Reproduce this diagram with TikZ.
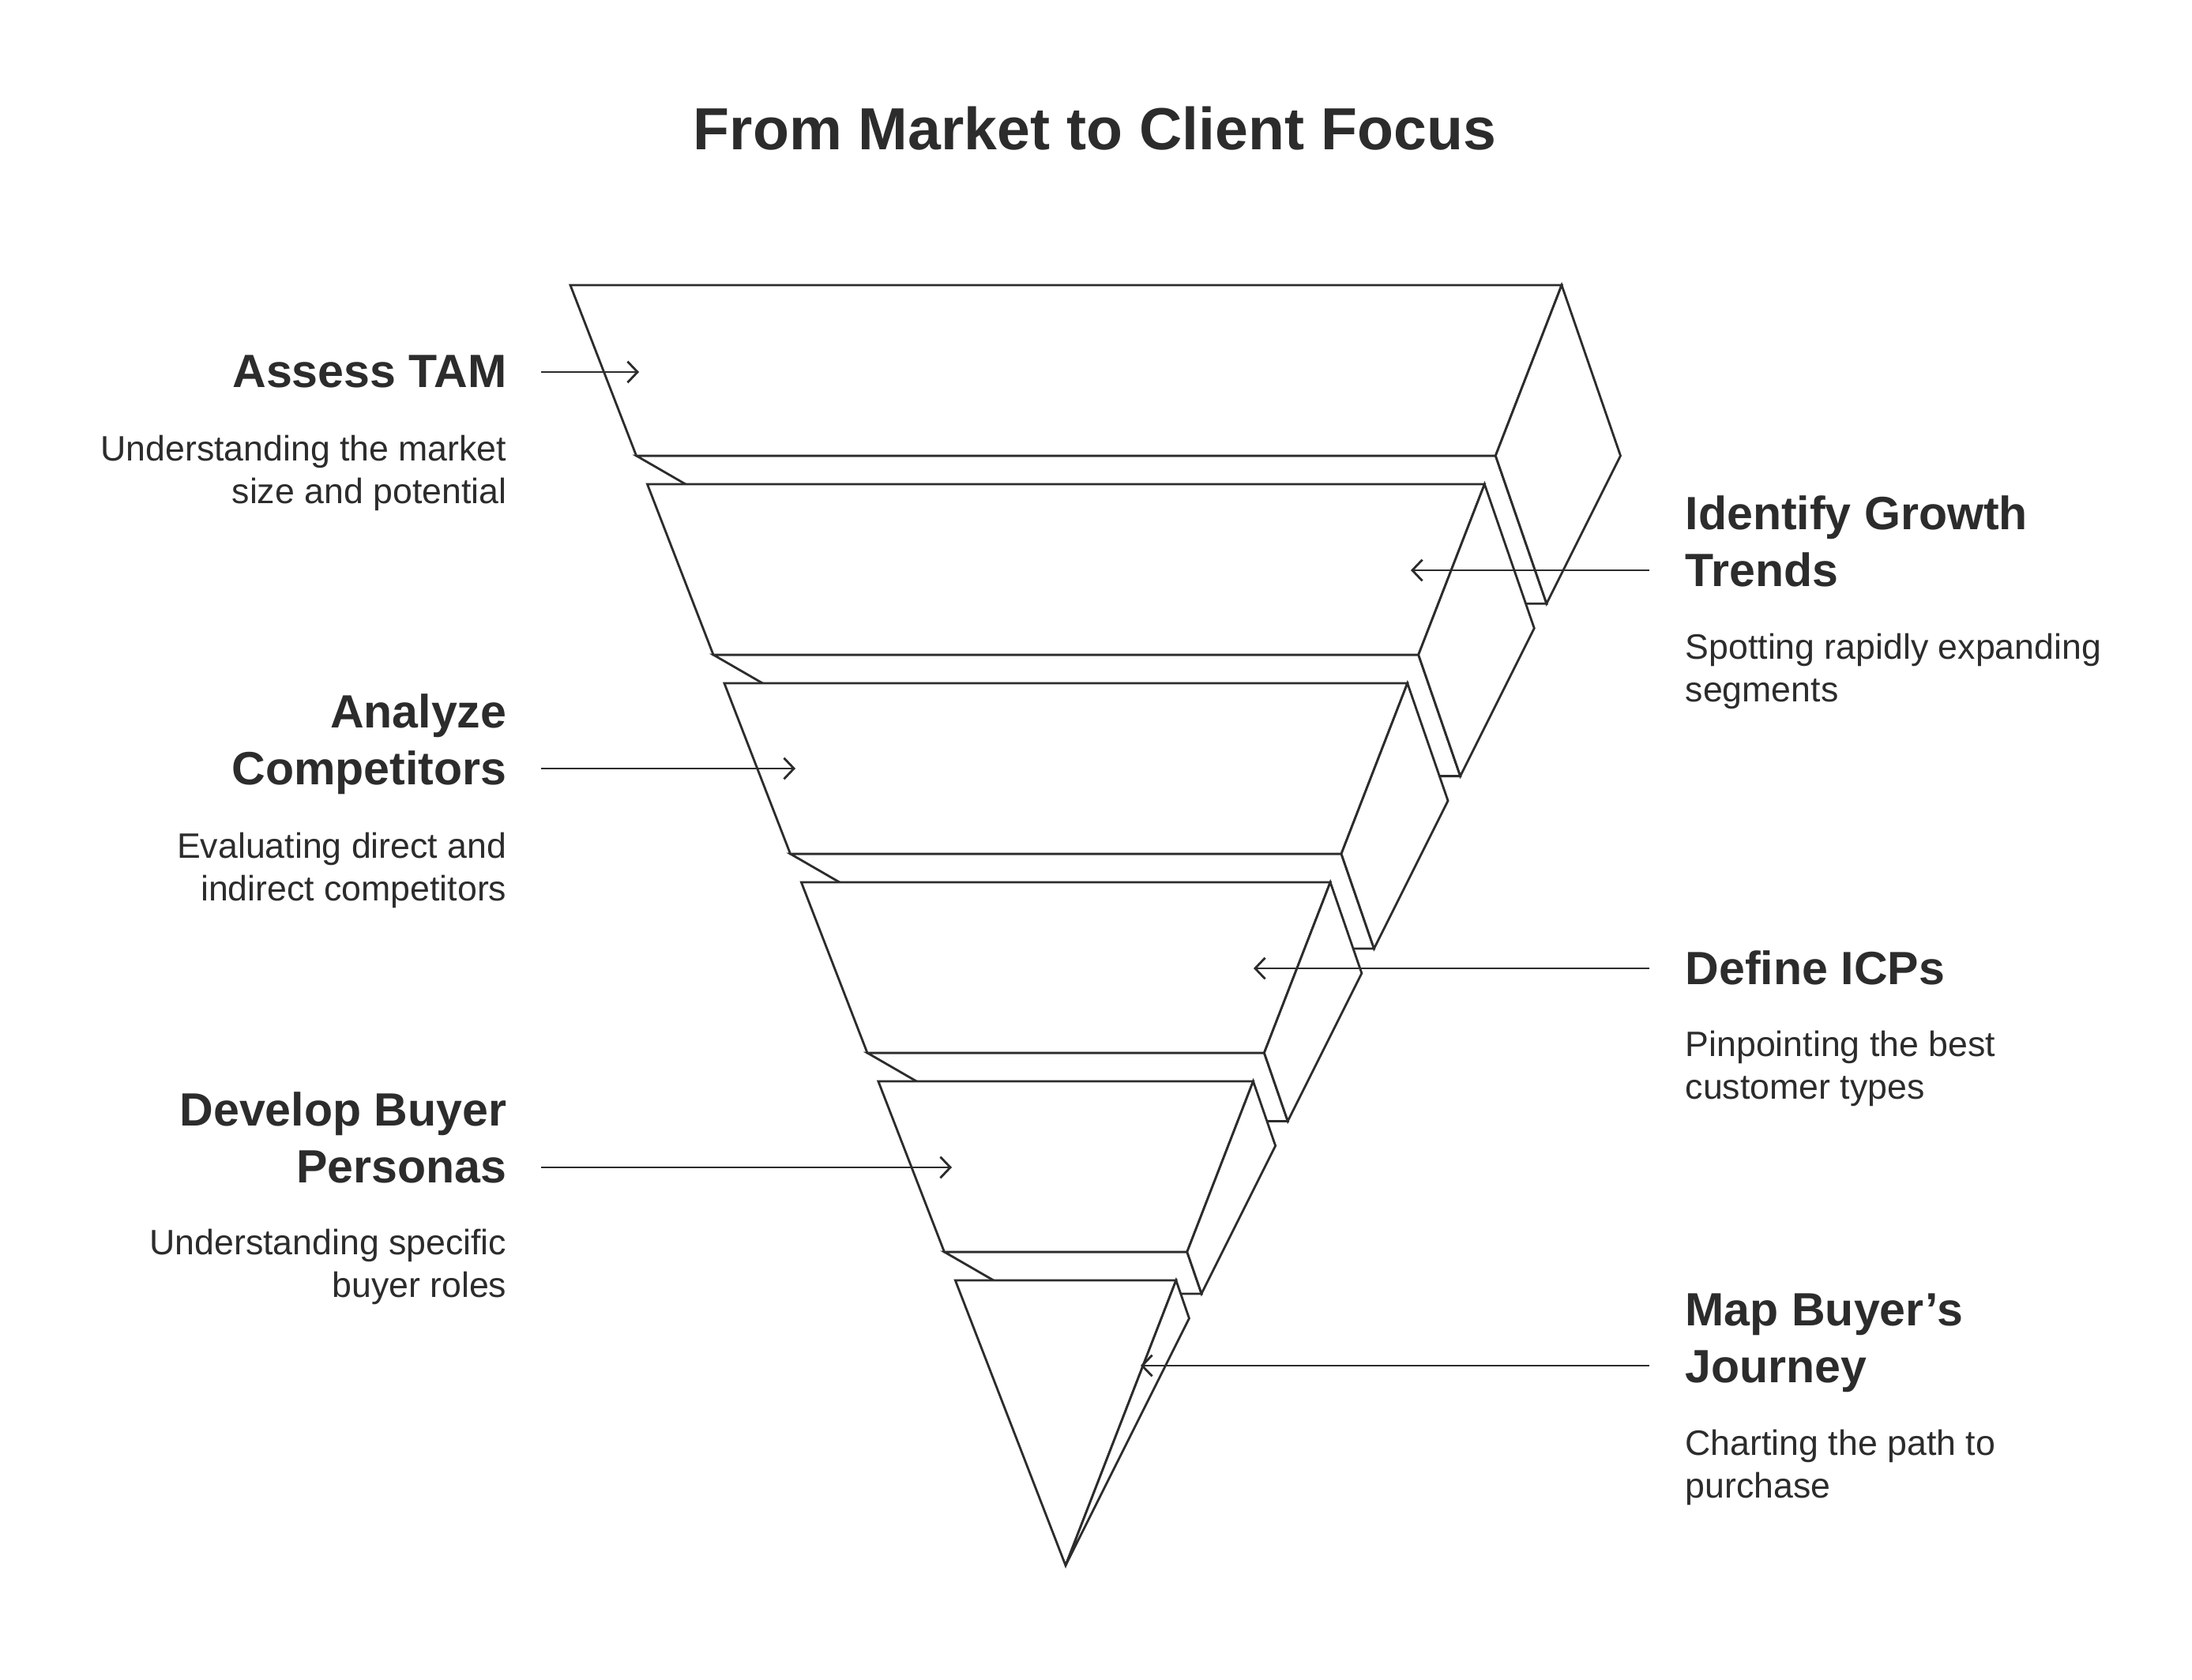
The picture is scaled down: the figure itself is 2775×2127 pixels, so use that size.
\documentclass[tikz,border=0pt]{standalone}
\usepackage{fontspec}
\setmainfont{Liberation Sans}
\usepackage{tikz}
\usetikzlibrary{arrows.meta,calc}
\definecolor{inkdark}{RGB}{44,44,44}
\tikzset{
  flow/.style={-{Straight Barb[length=3.6pt,width=7.6pt]}, line width=0.8pt, draw=inkdark},
  slab/.style={draw=inkdark, fill=white, line width=0.8pt},
  steptitle/.style={font=\fontsize{16.8}{20.2}\selectfont\bfseries, text=inkdark, inner sep=0pt},
  stepnote/.style={font=\fontsize{12.7}{15.1}\selectfont, text=inkdark, inner sep=0pt}
}
\begin{document}
\begin{tikzpicture}[x=0.01cm,y=-0.01cm]
  \path[fill=white,use as bounding box] (0,0) rectangle (2775,2127);
  \node[font=\fontsize{21.4}{25}\selectfont\bfseries,text=inkdark,anchor=base,inner sep=0pt] (title) at (1386,189) {From Market to Client Focus};
  \coordinate (ftl) at (722,361);
  \coordinate (ftr) at (1977,361);
  \coordinate (bkr) at (2051.5,577);
  \coordinate (bkl) at (1096,577);
  \coordinate (apex) at (1349,1982);
  \foreach \k in {0,...,4}{
    \pgfmathsetmacro\ta{252*\k/1621}
    \pgfmathsetmacro\tb{(252*\k+216)/1621}
    \path ($(ftl)!\ta!(apex)$) coordinate (tl) ($(ftr)!\ta!(apex)$) coordinate (tr)
          ($(bkr)!\ta!(apex)$) coordinate (rt)
          ($(ftl)!\tb!(apex)$) coordinate (bl) ($(ftr)!\tb!(apex)$) coordinate (br)
          ($(bkr)!\tb!(apex)$) coordinate (rb) ($(bkl)!\tb!(apex)$) coordinate (lb);
    \draw[slab] (bl) -- (lb) -- (rb) -- (br) -- cycle;
    \draw[slab] (tl) -- (tr) -- (br) -- (bl) -- cycle;
    \draw[slab] (tr) -- (rt) -- (rb) -- (br) -- cycle;
  }
  \path ($(ftl)!0.7773!(apex)$) coordinate (tl) ($(ftr)!0.7773!(apex)$) coordinate (tr)
        ($(bkr)!0.7773!(apex)$) coordinate (rt);
  \draw[slab] (tl) -- (tr) -- (apex) -- cycle;
  \draw[slab] (tr) -- (rt) -- (apex) -- cycle;
  \foreach \name/\y/\xa/\xb in {tam/471/685/809, grow/722/2088/1786, comp/973/685/1007,
      icp/1226/2088/1587, pers/1478/685/1205, jour/1729/2088/1444}{
    \coordinate (\name-tail) at (\xa,\y);
    \coordinate (\name-tip) at (\xb,\y);
    \draw[flow] (\name-tail) -- (\name-tip);
  }
  \foreach \name/\yh/\yn/\head/\note in {
      tam/490/637/{Assess TAM}/{Understanding the market\\size and potential},
      comp/993/1140/{Analyze\\Competitors}/{Evaluating direct and\\indirect competitors},
      pers/1497/1642/{Develop Buyer\\Personas}/{Understanding specific\\buyer roles}}{
    \node[steptitle,anchor=base east,align=right] (\name-head) at (642,\yh) {\head};
    \node[stepnote,anchor=base east,align=right] (\name-note) at (642,\yn) {\note};
  }
  \foreach \name/\yh/\yn/\head/\note in {
      grow/742/888/{Identify Growth\\Trends}/{Spotting rapidly expanding\\segments},
      icp/1246/1391/{Define ICPs}/{Pinpointing the best\\customer types},
      jour/1750/1896/{Map Buyer’s\\Journey}/{Charting the path to\\purchase}}{
    \node[steptitle,anchor=base west,align=left] (\name-head) at (2133,\yh) {\head};
    \node[stepnote,anchor=base west,align=left] (\name-note) at (2133,\yn) {\note};
  }
\end{tikzpicture}
\end{document}
